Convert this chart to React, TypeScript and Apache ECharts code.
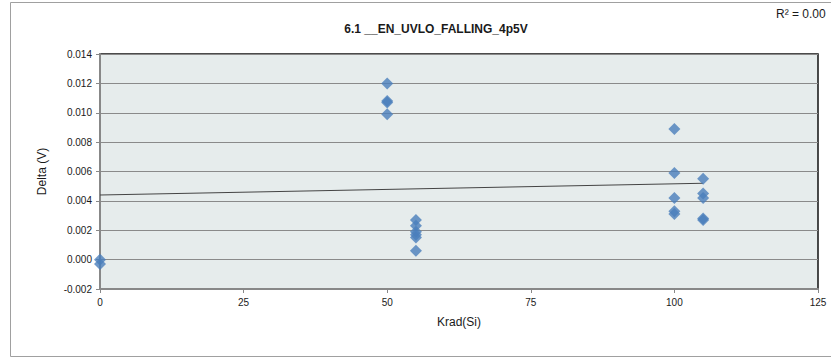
import React, { useEffect, useRef } from "react";
import * as echarts from "echarts";

const title = "6.1 __EN_UVLO_FALLING_4p5V";
const xName = "Krad(Si)";
const yName = "Delta (V)";
const r2Text = "R² = 0.00";

const doseX = [0, 0, 50, 50, 50, 50, 55, 55, 55, 55, 55, 55, 100, 100, 100, 100, 100, 105, 105, 105, 105, 105];
const deltaY = [0.0, -0.0003, 0.012, 0.0108, 0.0107, 0.0099, 0.0027, 0.0023, 0.0019, 0.0017, 0.0015, 0.0006, 0.0089, 0.0059, 0.0042, 0.0033, 0.0031, 0.0055, 0.0045, 0.0042, 0.0028, 0.0027];
const trendX = [0, 105];
const trendY = [0.0044, 0.0052];

const FONT = "Liberation Sans";

export default function App() {
  const ref = useRef<HTMLDivElement>(null);
  useEffect(() => {
    if (!ref.current) return;
    const chart = echarts.init(ref.current, null, { renderer: "svg" });
    chart.setOption({
      animation: false,
      backgroundColor: "#ffffff",
      textStyle: { fontFamily: FONT },
      title: {
        text: title,
        left: 431,
        top: 18,
        textAlign: "center",
        textStyle: { fontSize: 12, fontWeight: "bold", color: "#1a1a1a", fontFamily: FONT },
      },
      graphic: [
        {
          type: "rect",
          shape: { x: 10.5, y: 2.5, width: 840, height: 354 },
          style: { fill: "none", stroke: "#a0a0a0", lineWidth: 1 },
          z: 0,
        },
        {
          type: "text",
          left: 776,
          top: 8,
          style: { text: r2Text, fontSize: 12, fill: "#1a1a1a", fontFamily: FONT },
        },
      ],
      grid: {
        left: 100,
        right: 13,
        top: 54,
        bottom: 69,
        show: true,
        backgroundColor: "#E6ECEC",
        borderColor: "#111111",
        borderWidth: 1.5,
      },
      xAxis: {
        type: "value",
        min: 0,
        max: 125,
        interval: 25,
        name: xName,
        nameLocation: "middle",
        nameGap: 27,
        nameTextStyle: { fontSize: 12, color: "#1a1a1a", fontFamily: FONT },
        axisLine: { show: true, onZero: false, lineStyle: { color: "#888888", width: 2 } },
        axisTick: { show: true, length: 4, lineStyle: { color: "#888888" } },
        axisLabel: { fontSize: 10, color: "#1a1a1a", margin: 8, fontFamily: FONT },
        splitLine: { show: false },
      },
      yAxis: {
        type: "value",
        min: -0.002,
        max: 0.014,
        interval: 0.002,
        name: yName,
        nameLocation: "middle",
        nameGap: 52,
        nameTextStyle: { fontSize: 12, color: "#1a1a1a", fontFamily: FONT },
        axisLine: { show: true, onZero: false, lineStyle: { color: "#888888", width: 2 } },
        axisTick: { show: true, length: 4, lineStyle: { color: "#888888" } },
        axisLabel: {
          fontSize: 10,
          color: "#1a1a1a",
          margin: 8,
          fontFamily: FONT,
          formatter: (v: number) => v.toFixed(3),
        },
        splitLine: { show: true, lineStyle: { color: "#8a8a8a", width: 1 } },
      },
      series: [
        {
          type: "line",
          data: trendX.map((x, i) => [x, trendY[i]]),
          showSymbol: false,
          symbol: "none",
          lineStyle: { color: "#444444", width: 1 },
          z: 2,
        },
        {
          type: "scatter",
          data: doseX.map((x, i) => [x, deltaY[i]]),
          symbol: "diamond",
          symbolSize: 12,
          itemStyle: { color: "#4A7EBB" },
          z: 3,
        },
      ],
    });
    return () => chart.dispose();
  }, []);
  return <div ref={ref} style={{ width: 831, height: 358, position: "absolute", left: 0, top: 0 }} />;
}
